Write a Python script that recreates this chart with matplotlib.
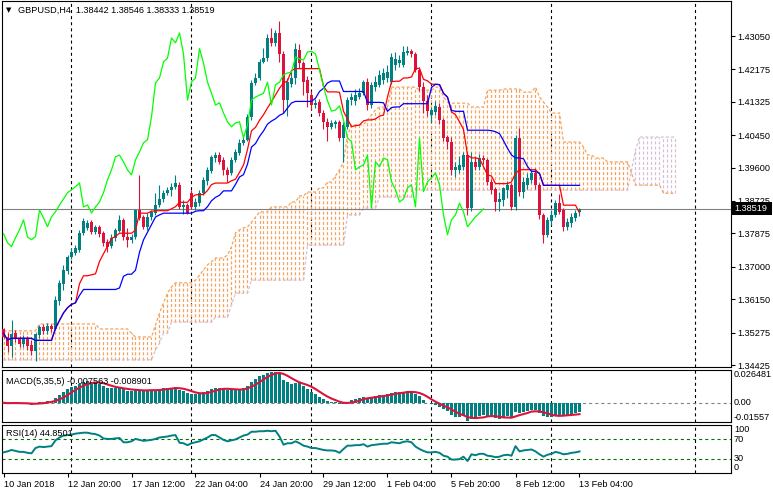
import numpy as np
import pandas as pd
import matplotlib
matplotlib.use("Agg")
import matplotlib.pyplot as plt
from matplotlib.patches import Rectangle

plt.rcParams['font.family'] = ['Liberation Sans', 'DejaVu Sans']
plt.rcParams['lines.scale_dashes'] = False

W, H = 773, 495

# GBPUSD H4 candles (one value per bar)
opens = [1.3537, 1.3516, 1.3493, 1.3527, 1.3514, 1.3498, 1.3511, 1.3496, 1.3480, 1.3522,
         1.3543, 1.3532, 1.3545, 1.3537, 1.3610, 1.3655, 1.3690, 1.3726, 1.3737, 1.3745,
         1.3789, 1.3802, 1.3818, 1.3792, 1.3805, 1.3789, 1.3766, 1.3755, 1.3776, 1.3794,
         1.3823, 1.3778, 1.3771, 1.3779, 1.3849, 1.3831, 1.3805, 1.3831, 1.3841, 1.3862,
         1.3878, 1.3894, 1.3900, 1.3910, 1.3915, 1.3857, 1.3862, 1.3894, 1.3857, 1.3867,
         1.3894, 1.3925, 1.3952, 1.3985, 1.3993, 1.3980, 1.3954, 1.3945, 1.3980, 1.3999,
         1.4025, 1.4033, 1.4093, 1.4182, 1.4195, 1.4237, 1.4247, 1.4300, 1.4287, 1.4313,
         1.4258, 1.4137, 1.4180, 1.4195, 1.4268, 1.4234, 1.4190, 1.4150, 1.4124, 1.4133,
         1.4103, 1.4080, 1.4067, 1.4075, 1.4080, 1.4038, 1.4067, 1.4137, 1.4135, 1.4145,
         1.4155, 1.4184, 1.4124, 1.4170, 1.4177, 1.4190, 1.4195, 1.4184, 1.4230, 1.4234,
         1.4230, 1.4260, 1.4265, 1.4258, 1.4216, 1.4172, 1.4135, 1.4098, 1.4106, 1.4119,
         1.4085, 1.4040, 1.4028, 1.3954, 1.3954, 1.3962, 1.3993, 1.3854, 1.3975, 1.3962,
         1.3985, 1.3980, 1.3923, 1.3905, 1.3870, 1.3875, 1.3900, 1.3915, 1.3857, 1.4038,
         1.3897, 1.3915, 1.3928, 1.3946, 1.3915, 1.3836, 1.3784, 1.3820, 1.3836, 1.3867,
         1.3849, 1.3805, 1.3815, 1.3828, 1.38442]
highs = [1.3540, 1.3527, 1.3561, 1.3535, 1.3519, 1.3520, 1.3519, 1.3509, 1.3527, 1.3548,
         1.3550, 1.3553, 1.3550, 1.3624, 1.3666, 1.3705, 1.3732, 1.3750, 1.3758, 1.3797,
         1.3828, 1.3823, 1.3823, 1.3810, 1.3810, 1.3794, 1.3774, 1.3787, 1.3802, 1.3836,
         1.3828, 1.3802, 1.3787, 1.3852, 1.3941, 1.3836, 1.3841, 1.3849, 1.3894, 1.3915,
         1.3902, 1.3910, 1.3920, 1.3941, 1.3923, 1.3875, 1.3867, 1.3902, 1.3880, 1.3902,
         1.3936, 1.3962, 1.3993, 1.4001, 1.4001, 1.3988, 1.3962, 1.3988, 1.4009, 1.4035,
         1.4045, 1.4100, 1.4190, 1.4208, 1.4245, 1.4274, 1.4310, 1.4326, 1.4320, 1.4344,
         1.4265, 1.4195, 1.4215, 1.4287, 1.4285, 1.4240, 1.4200, 1.4160, 1.4140, 1.4140,
         1.4110, 1.4090, 1.4085, 1.4085, 1.4085, 1.4080, 1.4145, 1.4155, 1.4165, 1.4168,
         1.4190, 1.4195, 1.4185, 1.4200, 1.4215, 1.4220, 1.4230, 1.4260, 1.4263, 1.4255,
         1.4280, 1.4278, 1.4272, 1.4262, 1.4225, 1.4185, 1.4150, 1.4120, 1.4135, 1.4130,
         1.4090, 1.4045, 1.4040, 1.3975, 1.3990, 1.4000, 1.4000, 1.4000, 1.3990, 1.3995,
         1.3993, 1.3985, 1.3930, 1.3910, 1.3895, 1.3910, 1.3925, 1.3920, 1.4045, 1.4064,
         1.3935, 1.3945, 1.3955, 1.3960, 1.3920, 1.3840, 1.3830, 1.3850, 1.3875, 1.3890,
         1.3855, 1.3828, 1.3840, 1.3848, 1.38546]
lows = [1.3512, 1.3477, 1.3464, 1.3504, 1.3490, 1.3490, 1.3483, 1.3470, 1.3453, 1.3514,
        1.3525, 1.3525, 1.3530, 1.3535, 1.3600, 1.3640, 1.3680, 1.3720, 1.3731, 1.3740,
        1.3782, 1.3797, 1.3787, 1.3787, 1.3779, 1.3755, 1.3740, 1.3750, 1.3768, 1.3790,
        1.3771, 1.3753, 1.3763, 1.3774, 1.3823, 1.3800, 1.3797, 1.3823, 1.3836, 1.3857,
        1.3870, 1.3888, 1.3885, 1.3905, 1.3852, 1.3839, 1.3838, 1.3852, 1.3850, 1.3860,
        1.3888, 1.3915, 1.3945, 1.3975, 1.3970, 1.3941, 1.3923, 1.3940, 1.3975, 1.3992,
        1.4020, 1.4030, 1.4085, 1.4177, 1.4190, 1.4234, 1.4240, 1.4280, 1.4280, 1.4237,
        1.4103, 1.4095, 1.4170, 1.4180, 1.4220, 1.4150, 1.4120, 1.4110, 1.4115, 1.4095,
        1.4060, 1.4030, 1.4060, 1.4065, 1.4030, 1.3975, 1.4060, 1.4125, 1.4125, 1.4140,
        1.4150, 1.4110, 1.4115, 1.4160, 1.4170, 1.4180, 1.4185, 1.4178, 1.4215, 1.4225,
        1.4225, 1.4255, 1.4250, 1.4210, 1.4160, 1.4103, 1.4095, 1.4077, 1.4098, 1.4075,
        1.4030, 1.4010, 1.3940, 1.3935, 1.3945, 1.3955, 1.3836, 1.3846, 1.3955, 1.3955,
        1.3970, 1.3915, 1.3890, 1.3845, 1.3845, 1.3860, 1.3880, 1.3850, 1.3850, 1.3885,
        1.3880, 1.3905, 1.3920, 1.3905, 1.3825, 1.3763, 1.3778, 1.3810, 1.3830, 1.3838,
        1.3795, 1.3797, 1.3805, 1.3820, 1.38333]
closes = [1.3516, 1.3493, 1.3524, 1.3514, 1.3498, 1.3511, 1.3493, 1.3480, 1.3524, 1.3543,
          1.3532, 1.3545, 1.3537, 1.3613, 1.3658, 1.3692, 1.3726, 1.3739, 1.3750, 1.3789,
          1.3820, 1.3815, 1.3792, 1.3805, 1.3787, 1.3763, 1.3753, 1.3776, 1.3797, 1.3823,
          1.3778, 1.3771, 1.3779, 1.3849, 1.3828, 1.3805, 1.3831, 1.3844, 1.3862, 1.3878,
          1.3894, 1.3902, 1.3910, 1.3920, 1.3857, 1.3862, 1.3841, 1.3857, 1.3870, 1.3894,
          1.3928, 1.3954, 1.3988, 1.3993, 1.3975, 1.3954, 1.3941, 1.3980, 1.4001, 1.4025,
          1.4033, 1.4093, 1.4182, 1.4195, 1.4237, 1.4247, 1.4300, 1.4287, 1.4313, 1.4258,
          1.4137, 1.4184, 1.4195, 1.4272, 1.4234, 1.4184, 1.4155, 1.4124, 1.4130, 1.4103,
          1.4080, 1.4067, 1.4077, 1.4080, 1.4038, 1.4072, 1.4137, 1.4145, 1.4150, 1.4155,
          1.4184, 1.4124, 1.4177, 1.4184, 1.4203, 1.4208, 1.4210, 1.4250, 1.4245, 1.4242,
          1.4263, 1.4265, 1.4258, 1.4216, 1.4172, 1.4135, 1.4108, 1.4111, 1.4122, 1.4085,
          1.4038, 1.4028, 1.3954, 1.3962, 1.3967, 1.3993, 1.3854, 1.3975, 1.3962, 1.3985,
          1.3980, 1.3923, 1.3902, 1.3870, 1.3878, 1.3907, 1.3915, 1.3857, 1.4038, 1.3897,
          1.3923, 1.3933, 1.3946, 1.3915, 1.3836, 1.3784, 1.3823, 1.3836, 1.3867, 1.3844,
          1.3805, 1.3818, 1.3831, 1.3841, 1.38519]

# Senkou spans as drawn (they come from history before the first bar, so read, not computed)
span_a = [1.3532, 1.3532, 1.3532, 1.3532, 1.3532, 1.3532, 1.3532, 1.3532, 1.3532, 1.3550,
          1.3550, 1.3550, 1.3550, 1.3550, 1.3550, 1.3550, 1.3550, 1.3550, 1.3550, 1.3550,
          1.3550, 1.3550, 1.3550, 1.3550, 1.3537, 1.3537, 1.3537, 1.3537, 1.3537, 1.3537,
          1.3537, 1.3537, 1.3526, 1.3516, 1.3516, 1.3516, 1.3516, 1.3516, 1.3547, 1.3579,
          1.3605, 1.3631, 1.3647, 1.3658, 1.3658, 1.3658, 1.3658, 1.3658, 1.3665, 1.3678,
          1.3692, 1.3705, 1.3713, 1.3723, 1.3723, 1.3723, 1.3731, 1.3752, 1.3789, 1.3797,
          1.3802, 1.3804, 1.3817, 1.3830, 1.3844, 1.3844, 1.3844, 1.3857, 1.3857, 1.3857,
          1.3857, 1.3857, 1.3870, 1.3870, 1.3886, 1.3886, 1.3896, 1.3896, 1.3896, 1.3907,
          1.3907, 1.3922, 1.3922, 1.3938, 1.3954, 1.3975, 1.4045, 1.4072, 1.4072, 1.4072,
          1.4072, 1.4085, 1.4098, 1.4111, 1.4119, 1.4119, 1.4119, 1.4171, 1.4171, 1.4171,
          1.4171, 1.4171, 1.4171, 1.4171, 1.4163, 1.4163, 1.4163, 1.4163, 1.4171, 1.4171,
          1.4145, 1.4132, 1.4129, 1.4129, 1.4129, 1.4129, 1.4129, 1.4119, 1.4119, 1.4119,
          1.4119, 1.4163, 1.4163, 1.4163, 1.4163, 1.4166, 1.4166, 1.4166, 1.4166, 1.4166,
          1.4158, 1.4158, 1.4158, 1.4171, 1.4145, 1.4132, 1.4119, 1.4103, 1.4103, 1.4103,
          1.4027, 1.4027, 1.4027, 1.4027, 1.4027, 1.4014, 1.3993, 1.3993, 1.3985, 1.3985,
          1.3985, 1.3975, 1.3975, 1.3975, 1.3975, 1.3975, 1.3975, 1.3946, 1.3914, 1.3914,
          1.3914, 1.3914, 1.3914, 1.3914, 1.3914, 1.3893, 1.3893, 1.3893, 1.3893]
span_b = [1.3456, 1.3456, 1.3456, 1.3456, 1.3456, 1.3456, 1.3456, 1.3456, 1.3456, 1.3456,
          1.3456, 1.3456, 1.3456, 1.3456, 1.3456, 1.3456, 1.3456, 1.3456, 1.3456, 1.3456,
          1.3456, 1.3456, 1.3456, 1.3456, 1.3456, 1.3456, 1.3456, 1.3456, 1.3456, 1.3456,
          1.3456, 1.3456, 1.3456, 1.3456, 1.3456, 1.3456, 1.3456, 1.3456, 1.3482, 1.3500,
          1.3526, 1.3526, 1.3555, 1.3555, 1.3555, 1.3555, 1.3555, 1.3555, 1.3555, 1.3555,
          1.3555, 1.3555, 1.3555, 1.3568, 1.3568, 1.3568, 1.3568, 1.3600, 1.3631, 1.3631,
          1.3631, 1.3631, 1.3665, 1.3665, 1.3665, 1.3665, 1.3665, 1.3665, 1.3665, 1.3665,
          1.3665, 1.3665, 1.3665, 1.3665, 1.3665, 1.3665, 1.3757, 1.3757, 1.3757, 1.3757,
          1.3757, 1.3757, 1.3757, 1.3757, 1.3757, 1.3757, 1.3836, 1.3836, 1.3836, 1.3836,
          1.3854, 1.3854, 1.3854, 1.3854, 1.3883, 1.3883, 1.3883, 1.3883, 1.3883, 1.3883,
          1.3883, 1.3883, 1.3883, 1.3901, 1.3901, 1.3901, 1.3901, 1.3901, 1.3901, 1.3901,
          1.3901, 1.3901, 1.3901, 1.3901, 1.3901, 1.3901, 1.3901, 1.3901, 1.3901, 1.3901,
          1.3901, 1.3901, 1.3901, 1.3901, 1.3901, 1.3901, 1.3901, 1.3901, 1.3901, 1.3901,
          1.3901, 1.3901, 1.3901, 1.3901, 1.3901, 1.3901, 1.3901, 1.3901, 1.3901, 1.3901,
          1.3901, 1.3901, 1.3901, 1.3901, 1.3901, 1.3901, 1.3901, 1.3901, 1.3901, 1.3901,
          1.3901, 1.3901, 1.3901, 1.3901, 1.3901, 1.3901, 1.3901, 1.3954, 1.4006, 1.4040,
          1.4040, 1.4040, 1.4040, 1.4040, 1.4040, 1.4040, 1.4040, 1.4040, 1.4040]

rsi = [43, 45, 48, 46, 44, 44, 42, 41, 52, 55,
       54, 55, 56, 68, 74, 78, 79, 80, 82, 83,
       84, 84, 82, 81, 78, 72, 71, 71, 72, 73,
       64, 64, 66, 71, 69, 67, 68, 69, 71, 74,
       75, 76, 78, 79, 63, 62, 58, 62, 64, 66,
       70, 74, 79, 79, 74, 69, 66, 68, 70, 74,
       78, 80, 86, 86, 87, 87, 88, 87, 88, 76,
       59, 62, 62, 66, 62, 57, 55, 52, 52, 50,
       48, 47, 47, 46, 42, 50, 57, 57, 58, 58,
       60, 55, 58, 59, 60, 61, 61, 64, 63, 62,
       65, 66, 64, 55, 50, 46, 43, 43, 44, 42,
       36, 34, 28, 28, 29, 34, 25, 39, 37, 40,
       40, 36, 35, 33, 34, 37, 38, 36, 56, 45,
       47, 48, 49, 45, 39, 34, 38, 40, 44, 42,
       39, 40, 42, 43, 44.85]

price_ticks = [1.43050, 1.42175, 1.41325, 1.40450, 1.39600, 1.38725,
               1.37875, 1.37000, 1.36150, 1.35275, 1.34425]
time_idx = [0, 16, 32, 48, 64, 80, 96, 112, 128, 144]
time_labels = ["10 Jan 2018", "12 Jan 20:00", "17 Jan 12:00", "22 Jan 04:00",
               "24 Jan 20:00", "29 Jan 12:00", "1 Feb 04:00", "5 Feb 20:00",
               "8 Feb 12:00", "13 Feb 04:00"]
week_idx = [17, 47, 77, 107, 137, 173]

# periods that reproduce the drawn tenkan / kijun / chikou
TENKAN, KIJUN, SHIFT = 11, 22, 24

TEAL = '#008080'
CRIMSON = '#DC143C'
SANDY = '#F4A460'
THISTLE = '#D8BFD8'

o = np.array(opens)
h = np.array(highs)
l = np.array(lows)
c = np.array(closes)
n = len(c)
x = np.arange(n)

hs, ls, cs = pd.Series(h), pd.Series(l), pd.Series(c)
tenkan = (hs.rolling(TENKAN, min_periods=1).max() + ls.rolling(TENKAN, min_periods=1).min()) / 2
kijun = (hs.rolling(KIJUN, min_periods=1).max() + ls.rolling(KIJUN, min_periods=1).min()) / 2
chikou = c[SHIFT:]

macd = cs.ewm(span=5, adjust=False).mean() - cs.ewm(span=35, adjust=False).mean()
signal = macd.rolling(5, min_periods=1).mean()


def box(x0, y0, x1, y1):
    return [x0 / W, 1 - y1 / H, (x1 - x0) / W, (y1 - y0) / H]


fig = plt.figure(figsize=(W / 100, H / 100), dpi=100)
ax = fig.add_axes(box(2, 1, 731, 367))
ax_m = fig.add_axes(box(2, 370, 731, 422))
ax_r = fig.add_axes(box(2, 425, 731, 473))

# bar i sits on pixel column 3 + 4*i
XL = (-0.375, 181.875)
for a_ in (ax, ax_m, ax_r):
    a_.set_xlim(*XL)
    for s in a_.spines.values():
        s.set_linewidth(0.8)
        s.set_color('black')
    for w in week_idx:
        a_.axvline(w, color='black', lw=0.8, ls=(0, (2.2, 2.2)), zorder=0.5)

# --- main chart ---
px_per_unit = 3814.5
ax.set_ylim(1.4305 - (367 - 36) / px_per_unit, 1.4305 + (36 - 1) / px_per_unit)

a = np.array(span_a)
b = np.array(span_b)
xa = np.arange(len(a))
cloud_col = np.where(a >= b, SANDY, THISTLE)
ax.vlines(xa, np.minimum(a, b), np.maximum(a, b), colors=cloud_col, lw=0.9,
          linestyles=(0, (2.2, 1.5)), zorder=1)
ax.plot(xa, a, color=SANDY, lw=0.9, ls=(0, (2.2, 1.5)), zorder=1.2)
ax.plot(xa, b, color=THISTLE, lw=0.9, ls=(0, (2.2, 1.5)), zorder=1.2)

ax.axhline(c[-1], color='#808080', lw=0.8, zorder=1.5)

col = np.where(c >= o, TEAL, CRIMSON)
ax.vlines(x, l, h, colors=col, lw=0.8, zorder=3)
body = np.maximum(np.abs(c - o), 0.0001)
ax.bar(x, body, bottom=np.minimum(o, c), width=0.75, color=col, lw=0, zorder=3)

ax.plot(x, tenkan, color='#FF0000', lw=0.9, zorder=4)
ax.plot(x, kijun, color='#0000FF', lw=0.9, zorder=4)
ax.plot(np.arange(len(chikou)), chikou, color='#00FF00', lw=0.9, zorder=4)

ax.yaxis.tick_right()
ax.set_yticks(price_ticks)
ax.set_yticklabels([f"{p:.5f}" for p in price_ticks])
ax.tick_params(axis='y', length=3, width=0.8, pad=1.5, labelsize=6.6)
ax.set_xticks([])

# --- MACD ---
ax_m.bar(x, macd, width=0.6, color=TEAL, lw=0, zorder=2)
ax_m.plot(x, signal, color=CRIMSON, lw=1.5, zorder=3)
ax_m.axhline(0, color='#808080', lw=0.8, ls=(0, (2.2, 2.2)), zorder=1)
ax_m.set_ylim(-0.01557, 0.026481)
ax_m.set_xticks([])
ax_m.set_yticks([])
yt = ax_m.get_yaxis_transform()
ax_m.text(1.004, 0.026481, "0.026481", transform=yt, fontsize=6.6, va='top')
ax_m.text(1.004, 0.0, "0.00", transform=yt, fontsize=6.6, va='center')
ax_m.text(1.004, -0.01557, "-0.01557", transform=yt, fontsize=6.6, va='bottom')
ax_m.text(0.006, 0.78, "MACD(5,35,5) -0.007563 -0.008901", transform=ax_m.transAxes,
          fontsize=6.6, va='center')

# --- RSI ---
ax_r.plot(x, rsi, color=TEAL, lw=1.4, zorder=3)
for lvl in (70, 30):
    ax_r.axhline(lvl, color='#007000', lw=0.8, ls=(0, (2.2, 2.2)), zorder=1)
ax_r.set_ylim(0, 100)
ax_r.set_yticks([])
yr = ax_r.get_yaxis_transform()
ax_r.text(1.004, 99, "100", transform=yr, fontsize=6.6, va='top')
ax_r.text(1.004, 70, "70", transform=yr, fontsize=6.6, va='center')
ax_r.text(1.004, 30, "30", transform=yr, fontsize=6.6, va='center')
ax_r.text(1.004, 2, "0", transform=yr, fontsize=6.6, va='bottom')
ax_r.text(0.006, 0.82, "RSI(14) 44.8501", transform=ax_r.transAxes, fontsize=6.6, va='center')
ax_r.set_xticks(time_idx)
ax_r.set_xticklabels(time_labels, ha='left')
ax_r.tick_params(axis='x', length=3, width=0.8, pad=2, labelsize=6.6)

# header and last price tag
fig.text(6 / W, 1 - 10 / H, "\u25bc", fontsize=5, va='center', family=['DejaVu Sans'])
fig.text(18 / W, 1 - 10 / H, "GBPUSD,H4  1.38442 1.38546 1.38333 1.38519", fontsize=6.6, va='center')
fig.patches.append(Rectangle((732 / W, 1 - 215 / H), 40 / W, 13 / H, transform=fig.transFigure,
                             facecolor='black', edgecolor='none'))
fig.text(734 / W, 1 - 208.5 / H, "1.38519", fontsize=6.6, va='center', color='white')

fig.savefig("out.png", dpi=100, facecolor='white')
